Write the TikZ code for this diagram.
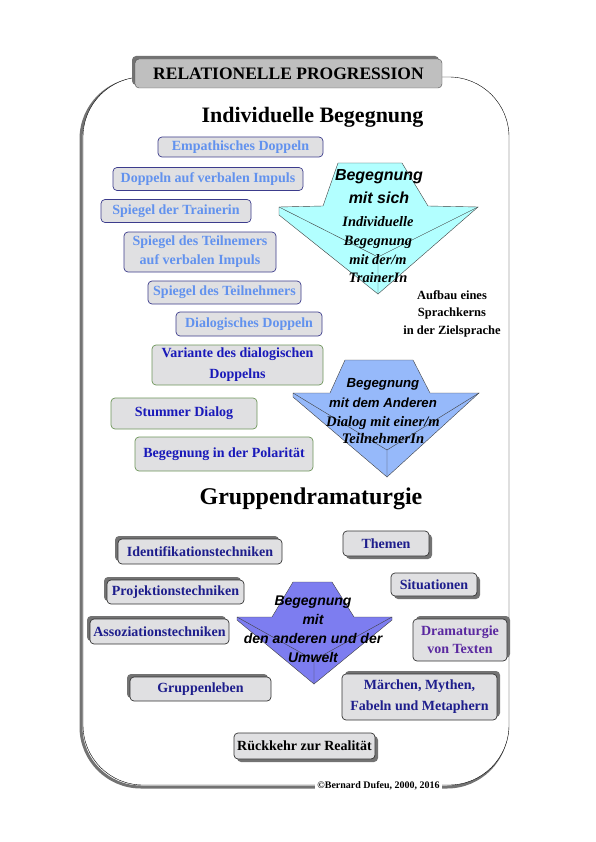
\documentclass[tikz,border=0pt]{standalone}
\usepackage{fontspec}
\setmainfont{Liberation Serif}
\newfontfamily\helvfont{Liberation Sans}
\usetikzlibrary{shadows}

\definecolor{boxfill}{RGB}{224,224,226}
\definecolor{skyblue}{RGB}{98,146,238}
\definecolor{navyline}{RGB}{60,60,140}
\definecolor{olivebord}{RGB}{110,150,90}
\definecolor{deepblue}{RGB}{25,25,185}
\definecolor{navytext}{RGB}{30,30,140}
\definecolor{purpletext}{RGB}{90,40,160}
\definecolor{arrowcyan}{RGB}{178,255,255}
\definecolor{arrowblue}{RGB}{150,185,250}
\definecolor{arrowviolet}{RGB}{125,125,240}

\begin{document}
\begin{tikzpicture}[x=1pt,y=-1pt,
  bluebox/.style={draw=navyline,line width=0.7pt,fill=boxfill,rounded corners=4pt,inner sep=0pt,align=center,
    text=skyblue,font=\bfseries\fontsize{14}{19}\selectfont},
  greenbox/.style={bluebox,draw=olivebord,text=deepblue,font=\bfseries\fontsize{14}{21}\selectfont},
  grpbox/.style={bluebox,draw=black!80,text=navytext,font=\bfseries\fontsize{14}{20}\selectfont},
  upleft/.style={drop shadow={shadow xshift=-3pt,shadow yshift=3pt,opacity=1,fill=black!55}},
  downright/.style={drop shadow={shadow xshift=3pt,shadow yshift=-3pt,opacity=1,fill=black!55}},
  upright/.style={drop shadow={shadow xshift=3pt,shadow yshift=3pt,opacity=1,fill=black!55}},
  sanslabel/.style={align=center,inner sep=0pt,font=\helvfont\bfseries\itshape},
  seriflabel/.style={align=center,inner sep=0pt,font=\bfseries\itshape},
  heading/.style={inner sep=0pt,font=\bfseries\fontsize{22}{26}\selectfont}]
  \useasboundingbox (0,0) rectangle (595,842);

  % frame
  \draw[black!55,line width=3pt,rounded corners=60pt] (81,79) rectangle (507,787);
  \draw[fill=white,rounded corners=60pt] (83,77) rectangle (509,785);
  \node[fill=white,inner sep=2pt,font=\bfseries\fontsize{10}{12}\selectfont] (copyright) at (378.5,786)
    {\textcopyright Bernard Dufeu, 2000, 2016};

  \node[draw=black!70,fill=black!25,rounded corners=4pt,inner sep=0pt,minimum width=307pt,minimum height=29pt,
    font=\bfseries\fontsize{17.5}{20}\selectfont,upleft] (title) at (288.5,73.5) {RELATIONELLE PROGRESSION};

  \node[heading] (indiv) at (312.5,117) {Individuelle Begegnung};
  \node[heading,font=\bfseries\fontsize{24}{28}\selectfont] (gruppe) at (311,499) {Gruppendramaturgie};

  % arrows
  \filldraw[fill=arrowcyan,draw=black!75] (338,163) -- (402,163) -- (428,206) -- (478,207) -- (378,294)
    -- (279,215) -- (279,207) -- (323,206) -- cycle;
  \draw[black!75] (279,207) -- (378,257) -- (478,207) (378,257) -- (378,294);
  \filldraw[fill=arrowblue,draw=black!75] (345,360) -- (413,360) -- (430,393) -- (479,393) -- (387,477)
    -- (293,397) -- (293,393) -- (330,393) -- cycle;
  \draw[black!75] (293,393) -- (387,450) -- (479,393) (387,450) -- (387,477);
  \filldraw[fill=arrowviolet,draw=black!75] (293,582) -- (332,582) -- (354,617) -- (392,617) -- (392,620)
    -- (314,684) -- (237,620) -- (237,617) -- (272,617) -- cycle;
  \draw[black!75] (237,617) -- (314,660) -- (392,617) (314,660) -- (314,684);

  \node[sanslabel,font=\helvfont\bfseries\itshape\fontsize{16}{23}\selectfont] (sich) at (379,187) {Begegnung\\mit sich};
  \node[seriflabel,font=\bfseries\itshape\fontsize{14.4}{18.7}\selectfont] (trainer) at (378,250)
    {Individuelle\\Begegnung\\mit der/m\\TrainerIn};
  \node[inner sep=0pt,align=center,font=\bfseries\fontsize{12.5}{17.5}\selectfont] (kern) at (452,313.5)
    {Aufbau eines\\Sprachkerns\\in der Zielsprache};
  \node[sanslabel,font=\helvfont\bfseries\itshape\fontsize{13.2}{20}\selectfont] (anderen) at (383,393)
    {Begegnung\\mit dem Anderen};
  \node[seriflabel,font=\bfseries\itshape\fontsize{14.6}{17.5}\selectfont] (dialog) at (383,430)
    {Dialog mit einer/m\\TeilnehmerIn};
  \node[sanslabel,font=\helvfont\bfseries\itshape\fontsize{14}{19}\selectfont] (umwelt) at (313,629.5)
    {Begegnung\\mit\\den anderen und der\\Umwelt};

  % individuelle Begegnung
  \node[bluebox,minimum width=165pt,minimum height=20pt] (empath) at (240.5,147) {Empathisches Doppeln};
  \node[bluebox,minimum width=190pt,minimum height=23pt] (verbal) at (208,179) {Doppeln auf verbalen Impuls};
  \node[bluebox,minimum width=150pt,minimum height=23pt] (trainerin) at (176,211) {Spiegel der Trainerin};
  \node[bluebox,minimum width=152pt,minimum height=40pt] (teilnemer) at (200,252)
    {Spiegel des Teilnemers\\auf verbalen Impuls};
  \node[bluebox,minimum width=153pt,minimum height=23pt] (teilnehmer) at (224.5,292.5) {Spiegel des Teilnehmers};
  \node[bluebox,minimum width=146pt,minimum height=24pt] (dialogisch) at (249,324) {Dialogisches Doppeln};
  \node[greenbox,minimum width=171pt,minimum height=40pt] (variante) at (237.5,365)
    {Variante des dialogischen\\Doppelns};
  \node[greenbox,minimum width=146pt,minimum height=31pt] (stumm) at (184,413.5) {Stummer Dialog};
  \node[greenbox,minimum width=178pt,minimum height=34pt] (polar) at (224,454) {Begegnung in der Polarität};

  % Gruppendramaturgie
  \node[grpbox,upleft,minimum width=164pt,minimum height=25pt] (ident) at (200,551.5) {Identifikationstechniken};
  \node[grpbox,upleft,minimum width=137pt,minimum height=24pt] (proj) at (175.5,592) {Projektionstechniken};
  \node[grpbox,upleft,minimum width=139pt,minimum height=25pt] (assoz) at (159.5,631.5) {Assoziationstechniken};
  \node[grpbox,upleft,minimum width=141pt,minimum height=24pt] (leben) at (200.5,689) {Gruppenleben};
  \node[grpbox,downright,minimum width=86pt,minimum height=25pt] (themen) at (386,543.5) {Themen};
  \node[grpbox,downright,minimum width=86pt,minimum height=23pt] (situ) at (434,584.5) {Situationen};
  \node[grpbox,upright,text=purpletext,font=\bfseries\fontsize{14}{18}\selectfont,minimum width=94pt,
    minimum height=42pt] (texte) at (460,640) {Dramaturgie\\von Texten};
  \node[grpbox,upright,font=\bfseries\fontsize{14}{21}\selectfont,minimum width=155pt,minimum height=46pt]
    (maerchen) at (419.5,697) {Märchen, Mythen,\\Fabeln und Metaphern};
  \node[grpbox,downright,text=black,minimum width=141pt,minimum height=26pt] (real) at (304.5,746)
    {Rückkehr zur Realität};
\end{tikzpicture}
\end{document}
